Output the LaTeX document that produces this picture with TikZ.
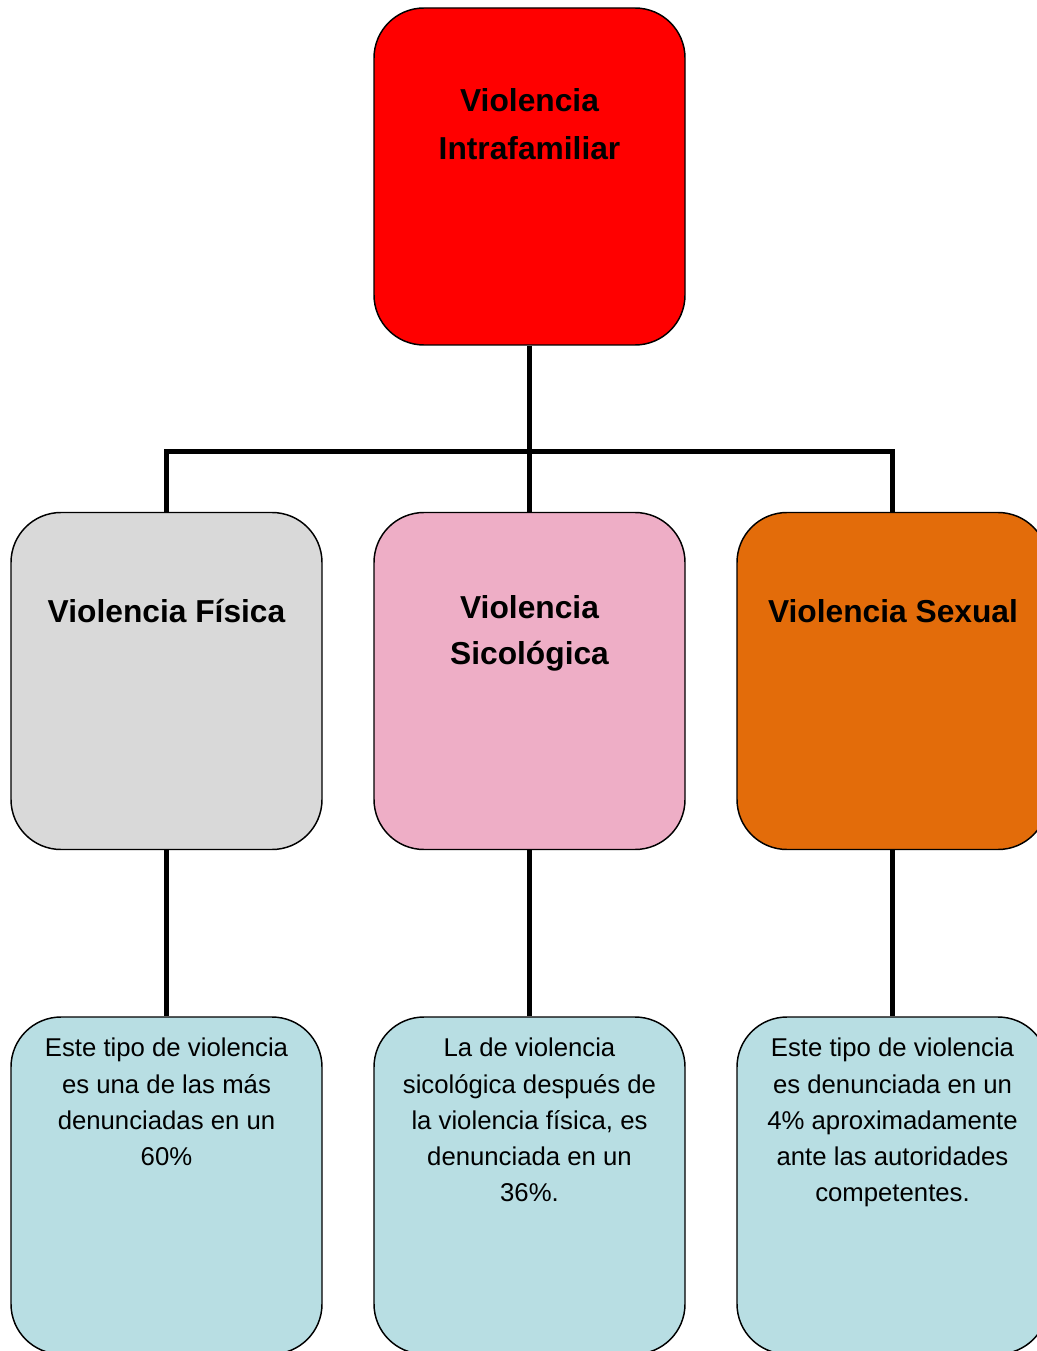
\documentclass[tikz,border=0pt]{standalone}
\usepackage{fontspec}
\setmainfont{Liberation Sans}
\definecolor{cRed}{HTML}{FF0000}
\definecolor{cGray}{HTML}{D9D9D9}
\definecolor{cPink}{HTML}{EEAEC6}
\definecolor{cOrange}{HTML}{E36C0A}
\definecolor{cBlue}{HTML}{B8DEE3}
\begin{document}
\begin{tikzpicture}[x=0.75pt,y=-0.75pt,
  box/.style={draw=black,line width=1.1pt,rounded corners=37.5pt,
    minimum width=233.25pt,minimum height=252.75pt,inner sep=0pt},
  conn/.style={line width=3.75pt,draw=black},
  title/.style={font=\fontsize{23.8pt}{35pt}\selectfont\bfseries,inner sep=0pt,align=center},
  body/.style={font=\fontsize{19.3pt}{27.2pt}\selectfont,inner sep=0pt,align=center}]
\useasboundingbox (0,0) rectangle (1037,1351);
\clip (0,0) rectangle (1037,1351);
% boxes
\node[box,fill=cRed] (top) at (529.5,176.5) {};
\node[box,fill=cGray] (fis) at (166.5,681) {};
\node[box,fill=cPink] (sic) at (529.5,681) {};
\node[box,fill=cOrange] (sex) at (892.5,681) {};
\node[box,fill=cBlue] (dfis) at (166.5,1185.5) {};
\node[box,fill=cBlue] (dsic) at (529.5,1185.5) {};
\node[box,fill=cBlue] (dsex) at (892.5,1185.5) {};
% connectors
\draw[conn] (top.south) -- (sic.north);
\draw[conn] (fis.north) -- ++(0,-60) -| (sex.north);
\draw[conn] (fis.south) -- (dfis.north);
\draw[conn] (sic.south) -- (dsic.north);
\draw[conn] (sex.south) -- (dsex.north);
% titles
\node[title,anchor=base] (ttop1) at (529.5,112) {Violencia};
\node[title,anchor=base] (ttop2) at (529.5,160) {Intrafamiliar};
\node[title,anchor=base] (tfis) at (166.5,622) {Violencia Física};
\node[title,anchor=base] (tsic1) at (529.5,618) {Violencia};
\node[title,anchor=base] (tsic2) at (529.5,664) {Sicológica};
\node[title,anchor=base] (tsex) at (893,622) {Violencia Sexual};
% body texts
\node[body,anchor=north] (bfis) at (166.5,1038) {Este tipo de violencia\\es una de las más\\denunciadas en un\\60\%};
\node[body,anchor=north] (bsic) at (529.5,1038) {La de violencia\\sicológica después de\\la violencia física, es\\denunciada en un\\36\%.};
\node[body,anchor=north] (bsex) at (892.5,1038) {Este tipo de violencia\\es denunciada en un\\4\% aproximadamente\\ante las autoridades\\competentes.};
\end{tikzpicture}
\end{document}
